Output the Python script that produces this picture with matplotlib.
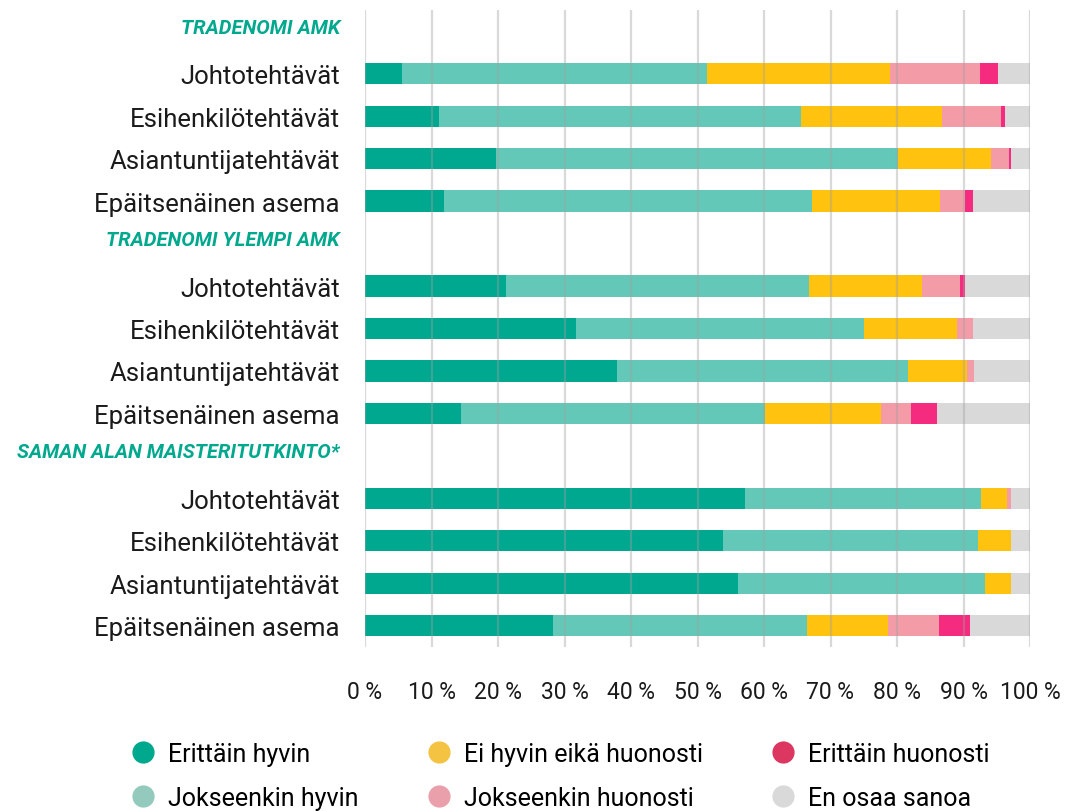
import matplotlib
matplotlib.use("Agg")
import matplotlib.pyplot as plt
from matplotlib.lines import Line2D
import matplotlib.transforms as mtransforms

plt.rcParams['font.family'] = ['Roboto', 'DejaVu Sans']

groups = ["TRADENOMI AMK", "TRADENOMI YLEMPI AMK", "SAMAN ALAN MAISTERITUTKINTO*"]
categories = ["Johtotehtävät", "Esihenkilötehtävät", "Asiantuntijatehtävät", "Epäitsenäinen asema"]
series_names = ["Erittäin hyvin", "Jokseenkin hyvin", "Ei hyvin eikä huonosti",
                "Jokseenkin huonosti", "Erittäin huonosti", "En osaa sanoa"]

# values per group, rows = categories, columns = series (percent)
amk = [
    [5.5, 45.9, 27.5, 13.6, 2.7, 4.8],
    [11.1, 54.4, 21.3, 8.9, 0.5, 3.8],
    [19.7, 60.5, 13.9, 2.8, 0.3, 2.8],
    [11.9, 55.3, 19.3, 3.8, 1.1, 8.6],
]
yamk = [
    [21.2, 45.5, 17.1, 5.6, 0.9, 9.7],
    [31.7, 43.3, 14.0, 2.4, 0.0, 8.6],
    [37.9, 43.8, 8.8, 1.1, 0.0, 8.4],
    [14.4, 45.8, 17.4, 4.5, 3.9, 14.0],
]
maisteri = [
    [57.2, 35.4, 4.0, 0.5, 0.0, 2.9],
    [53.8, 38.4, 4.9, 0.0, 0.0, 2.9],
    [56.1, 37.1, 3.9, 0.0, 0.0, 2.9],
    [28.2, 38.2, 12.3, 7.6, 4.7, 9.0],
]
tick_values = [0, 10, 20, 30, 40, 50, 60, 70, 80, 90, 100]

bar_colors = ["#00a88f", "#64c8b8", "#ffc20e", "#f39ca8", "#f42b7e", "#d9d9d9"]
legend_colors = ["#00a88e", "#93cabd", "#f5c342", "#e9a0ab", "#dc3760", "#d9d9d9"]
teal = "#00a88e"

fig = plt.figure(figsize=(10.67, 8.12), dpi=100)
ax = fig.add_axes([365/1067, 1-648/812, (1030-365)/1067, (648-11)/812])

labels = []
positions = []
is_header = []
data_rows = []
row = 0
for g, gdata in zip(groups, [amk, yamk, maisteri]):
    labels.append(g); positions.append(row); is_header.append(True); row += 1
    for c, vals in zip(categories, gdata):
        labels.append(c); positions.append(row); is_header.append(False)
        data_rows.append((row, vals)); row += 1

for r, vals in data_rows:
    left = 0.0
    for v, col in zip(vals, bar_colors):
        if v > 0:
            ax.barh(r, v, left=left, height=0.5, color=col, edgecolor='none', zorder=2)
        left += v

ax.set_ylim(len(labels) - 0.5, -0.5)
ax.set_xlim(0, 100)
for t in tick_values:
    ax.axvline(t, color='#a0a0a0', alpha=0.4, lw=1.6, zorder=3)

ax.set_xticks(tick_values)
ax.set_xticklabels([f"{t} %" for t in tick_values], fontsize=16.5, color='#1a1a1a')
ax.tick_params(axis='x', length=0, pad=24)
ax.set_yticks(positions)
ax.set_yticklabels(labels, fontsize=18.5, color='#1a1a1a')
ax.tick_params(axis='y', length=0, pad=18)
up = mtransforms.ScaledTranslation(0, 6/100, fig.dpi_scale_trans)
for lab, h in zip(ax.get_yticklabels(), is_header):
    if h:
        lab.set_fontweight('bold')
        lab.set_fontstyle('italic')
        lab.set_color(teal)
        lab.set_fontsize(14.5)
        lab.set_transform(lab.get_transform() + up)
for s in ax.spines.values():
    s.set_visible(False)

handles = [Line2D([0], [0], marker='o', linestyle='none', markersize=16,
                  markerfacecolor=c, markeredgecolor='none') for c in legend_colors]
fig.legend(handles, series_names, loc='center', bbox_to_anchor=(560/1067, 1-777/812),
           ncol=3, frameon=False, handletextpad=0.5, columnspacing=2.7,
           labelspacing=0.8, handlelength=1.0,
           prop={'size': 18})

fig.savefig("out.png", dpi=100)
